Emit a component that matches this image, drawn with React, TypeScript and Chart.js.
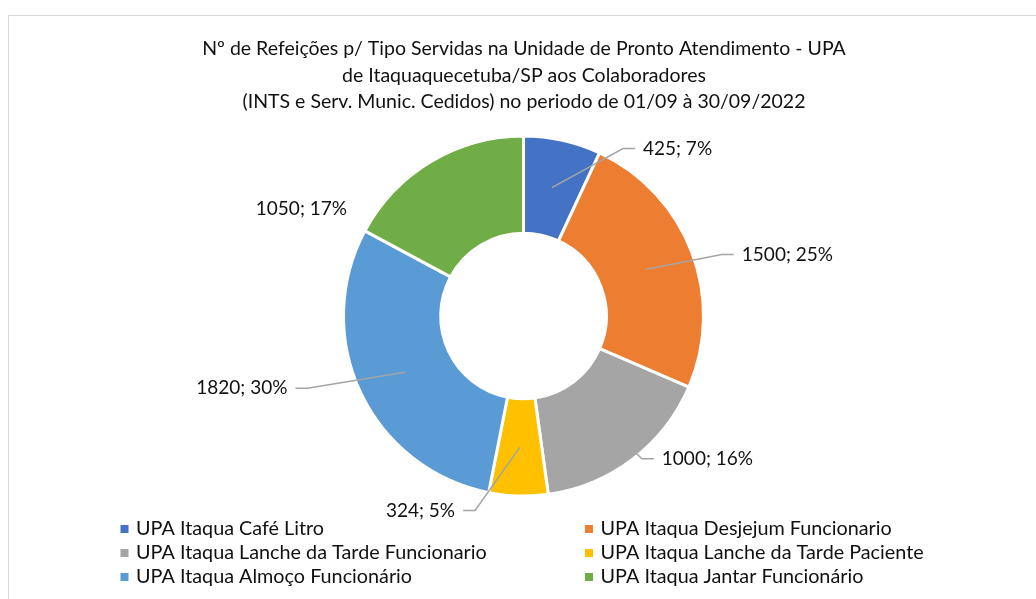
import React, { useEffect, useRef } from "react";
import { Chart, registerables } from "chart.js";

Chart.register(...registerables);

// ---------- data ----------
const categories = [
  "UPA Itaqua Café Litro",
  "UPA Itaqua Desjejum Funcionario",
  "UPA Itaqua Lanche da Tarde Funcionario",
  "UPA Itaqua Lanche da Tarde Paciente",
  "UPA Itaqua Almoço Funcionário",
  "UPA Itaqua Jantar Funcionário",
];
const values = [425, 1500, 1000, 324, 1820, 1050];
const colors = ["#4472C4", "#ED7D31", "#A5A5A5", "#FFC000", "#5B9BD5", "#70AD47"];
const titleLines = [
  "Nº de Refeições p/ Tipo Servidas na Unidade de Pronto Atendimento - UPA",
  "de Itaquaquecetuba/SP aos Colaboradores",
  "(INTS e Serv. Munic. Cedidos) no periodo de 01/09 à 30/09/2022",
];

// ---------- layout (not data) ----------
// label placement: angle clockwise from 12 o'clock (deg), distance in outer radii
const labelAngles = [42.6, 76.9, 127.8, 207.9, 255.6, 295.8];
const labelDistances = [1.275, 1.518, 1.304, 1.233, 1.629, 1.382];
const labelLeader = [true, true, true, true, true, false];

const FONT = "Lato, 'Open Sans', sans-serif";
const LABEL_SIZE = 19;
const TITLE_SIZE = 19.5;
const LEGEND_SIZE = 19.8;
const TEXT_COLOR = "#111111";

const overlayPlugin = {
  id: "overlay",
  afterDatasetsDraw(chart: any) {
    const ctx = chart.ctx as CanvasRenderingContext2D;
    const meta = chart.getDatasetMeta(0);
    const total = values.reduce((a, b) => a + b, 0);
    ctx.save();
    ctx.font = `${LABEL_SIZE}px ${FONT}`;
    ctx.textBaseline = "middle";
    meta.data.forEach((arc: any, i: number) => {
      const p = arc.getProps(["x", "y", "startAngle", "endAngle", "innerRadius", "outerRadius"], true);
      const mid = (p.startAngle + p.endAngle) / 2;
      const visR = p.outerRadius - 1.5;
      const midR = (p.innerRadius + p.outerRadius) / 2;
      const sx = p.x + Math.cos(mid) * midR;
      const sy = p.y + Math.sin(mid) * midR;
      const a = (labelAngles[i] * Math.PI) / 180 - Math.PI / 2;
      const lx = p.x + Math.cos(a) * labelDistances[i] * visR;
      const ly = p.y + Math.sin(a) * labelDistances[i] * visR;
      const text = `${values[i]}; ${Math.round((values[i] / total) * 100)}%`;
      const w = ctx.measureText(text).width;
      const right = lx > p.x;
      if (labelLeader[i]) {
        const ex = right ? lx - w / 2 - 8 : lx + w / 2 + 8;
        const bx = right ? ex - 12 : ex + 12;
        ctx.strokeStyle = "#A5A5A5";
        ctx.lineWidth = 1.5;
        ctx.beginPath();
        ctx.moveTo(sx, sy);
        ctx.lineTo(bx, ly);
        ctx.lineTo(ex, ly);
        ctx.stroke();
      }
      ctx.fillStyle = TEXT_COLOR;
      ctx.textAlign = "center";
      ctx.fillText(text, lx, ly);
    });

    // title
    ctx.font = `${TITLE_SIZE}px ${FONT}`;
    ctx.textAlign = "center";
    ctx.fillStyle = TEXT_COLOR;
    const titleY = [49, 75.5, 102];
    titleLines.forEach((line, i) => ctx.fillText(line, 524, titleY[i]));

    // legend (two columns)
    ctx.font = `${LEGEND_SIZE}px ${FONT}`;
    const colMarkerX = [120.5, 585];
    const colTextX = [136, 600.5];
    const rowY = [529, 553, 577];
    ctx.textAlign = "left";
    categories.forEach((label, i) => {
      const col = i % 2;
      const row = Math.floor(i / 2);
      ctx.fillStyle = colors[i];
      ctx.fillRect(colMarkerX[col], rowY[row] - 4, 8, 8);
      ctx.fillStyle = TEXT_COLOR;
      ctx.fillText(label, colTextX[col], rowY[row]);
    });
    ctx.restore();
  },
};

export default function App() {
  const canvasRef = useRef<HTMLCanvasElement | null>(null);

  useEffect(() => {
    if (!canvasRef.current) return;
    const chart = new Chart(canvasRef.current, {
      type: "doughnut",
      data: {
        labels: categories,
        datasets: [
          {
            data: values,
            backgroundColor: colors,
            borderColor: "#ffffff",
            borderWidth: 3,
            hoverOffset: 0,
          },
        ],
      },
      options: {
        responsive: false,
        animation: false,
        devicePixelRatio: 1,
        radius: 180,
        cutout: "46%",
        layout: { padding: { left: 11, right: 0, top: 33, bottom: 0 } },
        plugins: {
          legend: { display: false },
          title: { display: false },
          tooltip: { enabled: false },
        },
        events: [],
      } as any,
      plugins: [overlayPlugin],
    });
    return () => chart.destroy();
  }, []);

  return (
    <div style={{ position: "fixed", left: 0, top: 0, width: "100vw", height: "100vh", overflow: "hidden", background: "#fff" }}>
      <div
        style={{
          position: "absolute",
          left: 8,
          top: 15,
          width: 1100,
          height: 700,
          border: "1px solid #d9d9d9",
          boxSizing: "border-box",
        }}
      />
      <canvas
        ref={canvasRef}
        width={1036}
        height={599}
        style={{ position: "absolute", left: 0, top: 0, width: 1036, height: 599 }}
      />
    </div>
  );
}
